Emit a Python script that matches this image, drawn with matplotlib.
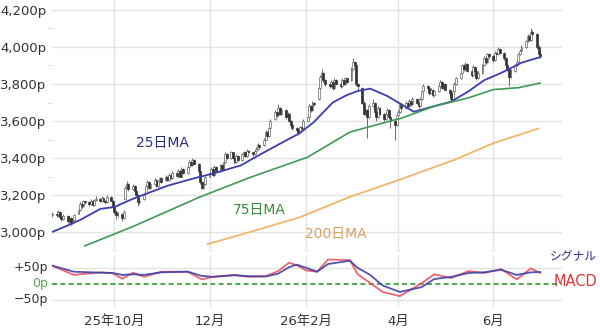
import pandas as pd
import numpy as np
import matplotlib
matplotlib.use('Agg')
import matplotlib.pyplot as plt
import matplotlib.dates as mdates

plt.rcParams['font.family'] = ['DejaVu Sans', 'Noto Sans CJK JP']

# daily candles (trading days from 2025-08-22)
opens = [3090,
    3100, 3085, 3110, 3080, 3070,  3085, 3060, 3075, 3050, 3065,
    3100, 3120, 3150, 3140, 3165,  3160, 3150, 3170, 3145, 3175,
    3180, 3165, 3185, 3170, 3160,  3190, 3170, 3140, 3110, 3090,
    3100, 3075, 3180, 3240, 3260,  3230, 3250, 3220, 3200, 3160,
    3180, 3210, 3250, 3270, 3240,  3260, 3280, 3250, 3275, 3290,
    3280, 3300, 3280, 3310, 3290,  3320, 3305, 3330, 3300, 3340,
    3320, 3350, 3380, 3360, 3390,  3370, 3330, 3270, 3240, 3260,
    3300, 3320, 3340, 3310, 3350,  3330, 3360, 3340, 3380, 3420,
    3400, 3430, 3400, 3380, 3410,  3390, 3420, 3430, 3410, 3440,
    3430, 3420, 3440, 3450, 3470,  3470, 3500, 3540, 3520, 3560,
    3610, 3650, 3630, 3670, 3640,  3660, 3620, 3640, 3600, 3580,
    3560, 3550, 3540, 3570, 3560,  3600, 3620, 3680, 3660, 3700,
    3720, 3780, 3840, 3860, 3820,  3800, 3790, 3810, 3780, 3820,
    3800, 3790, 3820, 3800, 3830,  3820, 3880, 3920, 3900, 3800,
    3780, 3700, 3640, 3660, 3620,  3680, 3700, 3650, 3620, 3670,
    3640, 3610, 3640, 3660, 3620,  3600, 3580, 3630, 3650, 3690,
    3670, 3700, 3680, 3710, 3690,  3720, 3700, 3680, 3720, 3760,
    3790, 3780, 3750, 3770, 3740,  3760, 3790, 3810, 3780, 3800,
    3770, 3750, 3720, 3760, 3800,  3830, 3860, 3900, 3880, 3910,
    3870, 3850, 3890, 3870, 3830,  3860, 3900, 3940, 3920, 3960,
    3950, 3930, 3970, 3960, 3990,  3970, 3940, 3900, 3880, 3840,
    3870, 3900, 3920, 3960, 3980,  4000, 4030, 4060, 4040, 4080,
    4070, 4000, 3960]
highs = [3110,
    3115, 3120, 3115, 3090, 3095,  3090, 3085, 3080, 3075, 3100,
    3130, 3160, 3160, 3175, 3170,  3165, 3180, 3175, 3180, 3195,
    3185, 3195, 3190, 3175, 3200,  3195, 3175, 3145, 3120, 3110,
    3105, 3120, 3250, 3275, 3265,  3260, 3255, 3225, 3205, 3180,
    3210, 3255, 3280, 3275, 3265,  3290, 3285, 3280, 3300, 3295,
    3310, 3305, 3320, 3315, 3330,  3325, 3340, 3335, 3350, 3345,
    3360, 3390, 3385, 3400, 3395,  3375, 3335, 3275, 3270, 3305,
    3330, 3350, 3345, 3360, 3355,  3370, 3365, 3390, 3430, 3425,
    3440, 3435, 3405, 3420, 3415,  3425, 3440, 3435, 3450, 3445,
    3435, 3445, 3460, 3480, 3475,  3510, 3550, 3545, 3570, 3610,
    3660, 3655, 3690, 3675, 3670,  3665, 3650, 3645, 3605, 3585,
    3565, 3555, 3575, 3575, 3610,  3630, 3690, 3685, 3710, 3705,
    3790, 3850, 3880, 3865, 3825,  3805, 3820, 3815, 3830, 3825,
    3805, 3830, 3825, 3840, 3835,  3890, 3940, 3925, 3905, 3805,
    3785, 3710, 3670, 3665, 3690,  3720, 3705, 3655, 3680, 3675,
    3645, 3650, 3670, 3665, 3625,  3605, 3640, 3660, 3700, 3695,
    3710, 3705, 3720, 3715, 3730,  3725, 3705, 3730, 3770, 3800,
    3795, 3785, 3780, 3775, 3770,  3800, 3820, 3815, 3810, 3805,
    3775, 3755, 3770, 3810, 3840,  3870, 3910, 3905, 3920, 3915,
    3875, 3900, 3895, 3875, 3870,  3910, 3950, 3945, 3970, 3965,
    3955, 3980, 3975, 4000, 3995,  3975, 3945, 3910, 3885, 3880,
    3910, 3930, 3970, 3990, 4010,  4040, 4070, 4065, 4100, 4090,
    4075, 4010, 3980]
lows = [3080,
    3080, 3080, 3070, 3060, 3065,  3050, 3050, 3040, 3045, 3060,
    3095, 3115, 3130, 3135, 3150,  3140, 3145, 3140, 3140, 3170,
    3160, 3160, 3165, 3150, 3155,  3165, 3130, 3100, 3070, 3080,
    3060, 3070, 3175, 3230, 3220,  3225, 3210, 3190, 3140, 3150,
    3175, 3205, 3245, 3235, 3235,  3255, 3245, 3245, 3270, 3265,
    3275, 3275, 3275, 3285, 3285,  3300, 3300, 3295, 3295, 3315,
    3315, 3345, 3355, 3355, 3365,  3325, 3260, 3230, 3235, 3255,
    3295, 3315, 3305, 3305, 3325,  3325, 3335, 3335, 3375, 3395,
    3395, 3395, 3370, 3375, 3385,  3385, 3415, 3405, 3405, 3425,
    3410, 3415, 3435, 3445, 3450,  3465, 3495, 3510, 3515, 3555,
    3605, 3620, 3625, 3635, 3635,  3610, 3615, 3595, 3570, 3550,
    3540, 3525, 3535, 3550, 3555,  3595, 3615, 3650, 3655, 3680,
    3715, 3775, 3835, 3810, 3790,  3780, 3785, 3770, 3775, 3795,
    3780, 3785, 3795, 3795, 3805,  3815, 3875, 3890, 3790, 3770,
    3690, 3630, 3630, 3510, 3615,  3675, 3640, 3600, 3615, 3630,
    3600, 3605, 3635, 3610, 3560,  3500, 3575, 3625, 3645, 3660,
    3665, 3670, 3675, 3680, 3685,  3690, 3670, 3675, 3715, 3755,
    3770, 3740, 3745, 3730, 3735,  3755, 3785, 3775, 3775, 3765,
    3740, 3710, 3715, 3755, 3795,  3825, 3855, 3870, 3875, 3865,
    3840, 3845, 3865, 3820, 3825,  3855, 3895, 3910, 3915, 3940,
    3920, 3925, 3950, 3955, 3960,  3930, 3890, 3870, 3790, 3835,
    3865, 3895, 3915, 3955, 3975,  3995, 4025, 4030, 4035, 4060,
    3990, 3950, 3940]
closes = [3100,
    3090, 3110, 3080, 3070, 3085,  3060, 3075, 3050, 3065, 3090,
    3120, 3150, 3140, 3165, 3160,  3150, 3170, 3145, 3175, 3180,
    3165, 3185, 3170, 3160, 3190,  3170, 3140, 3110, 3090, 3100,
    3075, 3110, 3240, 3260, 3230,  3250, 3220, 3200, 3160, 3170,
    3200, 3250, 3270, 3240, 3260,  3280, 3250, 3275, 3290, 3270,
    3300, 3280, 3310, 3290, 3320,  3305, 3330, 3300, 3340, 3320,
    3350, 3380, 3360, 3390, 3370,  3330, 3270, 3240, 3260, 3300,
    3320, 3340, 3310, 3350, 3330,  3360, 3340, 3380, 3420, 3400,
    3430, 3400, 3380, 3410, 3390,  3420, 3430, 3410, 3440, 3430,
    3420, 3440, 3450, 3470, 3460,  3500, 3540, 3520, 3560, 3600,
    3650, 3630, 3670, 3640, 3660,  3620, 3640, 3600, 3580, 3560,
    3550, 3540, 3570, 3560, 3600,  3620, 3680, 3660, 3700, 3690,
    3780, 3840, 3860, 3820, 3800,  3790, 3810, 3780, 3820, 3800,
    3790, 3820, 3800, 3830, 3810,  3880, 3920, 3900, 3800, 3790,
    3700, 3640, 3660, 3620, 3680,  3700, 3650, 3620, 3670, 3640,
    3610, 3640, 3660, 3620, 3600,  3580, 3630, 3650, 3690, 3670,
    3700, 3680, 3710, 3690, 3720,  3700, 3680, 3720, 3760, 3790,
    3780, 3750, 3770, 3740, 3760,  3790, 3810, 3780, 3800, 3770,
    3750, 3720, 3760, 3800, 3830,  3860, 3900, 3880, 3910, 3870,
    3850, 3890, 3870, 3830, 3860,  3900, 3940, 3920, 3960, 3950,
    3930, 3970, 3960, 3990, 3970,  3940, 3900, 3880, 3840, 3870,
    3900, 3920, 3960, 3980, 4000,  4030, 4060, 4040, 4080, 4070,
    4000, 3960, 3950]

# moving averages, sampled along the drawn lines
ma25_dates = ['2025-08-22', '2025-09-01', '2025-09-09', '2025-09-22', '2025-10-01',
              '2025-10-13', '2025-10-24', '2025-11-04', '2025-11-21', '2025-12-05',
              '2025-12-21', '2026-01-07', '2026-01-18', '2026-01-28', '2026-02-06',
              '2026-02-18', '2026-02-27', '2026-03-06', '2026-03-14', '2026-03-25',
              '2026-04-03', '2026-04-11', '2026-04-24', '2026-05-05', '2026-05-16',
              '2026-05-26', '2026-06-06', '2026-06-12', '2026-06-19', '2026-07-01']
ma25 = [3000, 3035, 3065, 3125, 3135, 3180, 3215, 3250, 3290, 3320, 3360, 3440, 3490,
        3535, 3595, 3700, 3740, 3762, 3775, 3735, 3690, 3650, 3680, 3705, 3760, 3820,
        3860, 3885, 3915, 3945]
ma75_dates = ['2025-09-12', '2025-10-13', '2025-11-25', '2025-12-27', '2026-02-02',
              '2026-03-01', '2026-03-29', '2026-04-03', '2026-04-24', '2026-05-16',
              '2026-06-01', '2026-06-17', '2026-07-01']
ma75 = [2925, 3030, 3190, 3295, 3405, 3540, 3605, 3615, 3680, 3725, 3770, 3780, 3805]
ma200_dates = ['2025-11-30', '2025-12-27', '2026-01-28', '2026-03-01', '2026-04-01',
               '2026-05-07', '2026-06-01', '2026-06-30']
ma200 = [2935, 3000, 3080, 3190, 3280, 3390, 3480, 3560]

macd_dates = ['2025-08-22', '2025-09-05', '2025-09-22', '2025-09-30', '2025-10-06',
              '2025-10-13', '2025-10-20', '2025-10-31', '2025-11-17', '2025-11-26',
              '2025-12-03', '2025-12-17', '2025-12-26', '2026-01-06', '2026-01-14',
              '2026-01-21', '2026-01-26', '2026-02-01', '2026-02-08', '2026-02-15',
              '2026-03-01', '2026-03-06', '2026-03-14', '2026-03-22', '2026-04-02',
              '2026-04-16', '2026-04-24', '2026-05-05', '2026-05-16', '2026-05-26',
              '2026-06-06', '2026-06-16', '2026-06-25', '2026-07-01']
macd = [57, 28, 36, 33, 16, 35, 22, 38, 38, 14, 22, 28, 22, 24, 40, 66, 58, 42, 38, 76,
        74, 30, 3, -25, -38, 2, 30, 18, 40, 34, 46, 14, 48, 34]
signal = [57, 38, 35, 34, 28, 30, 28, 36, 38, 25, 22, 27, 24, 23, 32, 52, 60, 50, 38, 62,
          72, 50, 28, -5, -25, -10, 15, 22, 34, 36, 44, 28, 36, 37]

price_ticks = [3000, 3200, 3400, 3600, 3800, 4000, 4200]
macd_ticks = [50, 0, -50]
macd_labels = ['+50p', '0p', '\u221250p']
macd_label_colors = ['#333333', '#5aa55a', '#333333']
month_ticks = ['2025-10-01', '2025-12-01', '2026-02-01', '2026-04-01', '2026-06-01']
month_labels = ['25年10月', '12月', '26年2月', '4月', '6月']

GRID = '#e3e3e3'
C25, C75, C200 = '#3c3cae', '#3f9a55', '#f2b56a'

fig = plt.figure(figsize=(6, 3.29), dpi=100)
ax = fig.add_axes([52/600, 1 - 252/329, 510/600, 252/329])
ax2 = fig.add_axes([52/600, 1 - 308/329, 510/600, 53/329])

days = pd.bdate_range('2025-08-22', periods=len(closes))
x = mdates.date2num(days)
o = np.array(opens); h = np.array(highs); l = np.array(lows); c = np.array(closes)
up = c >= o

# candles
ax.vlines(x, l, h, color='#555555', lw=0.6, zorder=3)
ax.bar(x[up], c[up] - o[up], bottom=o[up], width=1.2, color='white',
       edgecolor='#666666', linewidth=0.5, zorder=4)
ax.bar(x[~up], o[~up] - c[~up], bottom=c[~up], width=1.2, color='#333333',
       edgecolor='#333333', linewidth=0.5, zorder=4)

ax.plot(pd.to_datetime(ma25_dates), ma25, color=C25, lw=1.3, zorder=5)
ax.plot(pd.to_datetime(ma75_dates), ma75, color=C75, lw=1.2, zorder=5)
ax.plot(pd.to_datetime(ma200_dates), ma200, color=C200, lw=1.3, zorder=5)

ax.text(pd.Timestamp('2025-11-01'), 3481, '25日MA', color='#2c2c80', fontsize=10,
        ha='center', va='center')
ax.text(pd.Timestamp('2026-01-02'), 3119, '75日MA', color='#3a8a3a', fontsize=10,
        ha='center', va='center')
ax.text(pd.Timestamp('2026-02-20'), 2989, '200日MA', color='#d9a060', fontsize=10,
        ha='center', va='center')

xmin = mdates.date2num(pd.Timestamp('2025-08-22'))
xmax = mdates.date2num(pd.Timestamp('2026-07-15'))
for a in (ax, ax2):
    a.set_xlim(xmin, xmax)
    for s in a.spines.values():
        s.set_visible(False)
    a.set_xticks(mdates.date2num(pd.to_datetime(month_ticks)))
    a.xaxis.grid(True, color=GRID, lw=1)
    a.set_axisbelow(True)

ax.set_ylim(2892, 4254)
ax.set_yticks(price_ticks)
ax.set_yticklabels([f'{v:,}p' for v in price_ticks])
ax.yaxis.grid(True, color=GRID, lw=1)
ax.set_yticks([3100, 3300, 3500, 3700, 3900, 4100], minor=True)
ax.tick_params(axis='y', which='major', length=0, pad=4, labelsize=9.5, labelcolor='#333333')
ax.tick_params(axis='y', which='minor', length=3, color='#cccccc')
ax.tick_params(axis='x', length=0, labelbottom=False)

ax2.plot(pd.to_datetime(macd_dates), macd, color='#ea4a5a', lw=1.3, alpha=0.85, zorder=4)
ax2.plot(pd.to_datetime(macd_dates), signal, color='#4040a8', lw=1.3, alpha=0.9, zorder=5)
ax2.axhline(0, color='#2e9a2e', lw=1.2, ls=(0, (3, 2)), zorder=3)
ax2.set_ylim(-75, 90)
ax2.set_yticks([])
ytr = ax2.get_yaxis_transform()
for v, lab, col in zip(macd_ticks, macd_labels, macd_label_colors):
    if v != 0:
        ax2.axhline(v, color=GRID, lw=1, zorder=1)
    ax2.text(-0.008, v, lab, transform=ytr, ha='right', va='center', fontsize=9,
             color=col, clip_on=False)
ax2.set_xticklabels(month_labels)
ax2.tick_params(axis='x', length=0, pad=5, labelsize=9.5, labelcolor='#333333')

fig.text(597/600, 1 - 257/329, 'シグナル', color='#2c2c80', fontsize=8.5,
         ha='right', va='center')
fig.text(597/600, 1 - 281/329, 'MACD', color='#d83a3a', fontsize=10.5,
         ha='right', va='center')

fig.savefig('out.png', dpi=100)
